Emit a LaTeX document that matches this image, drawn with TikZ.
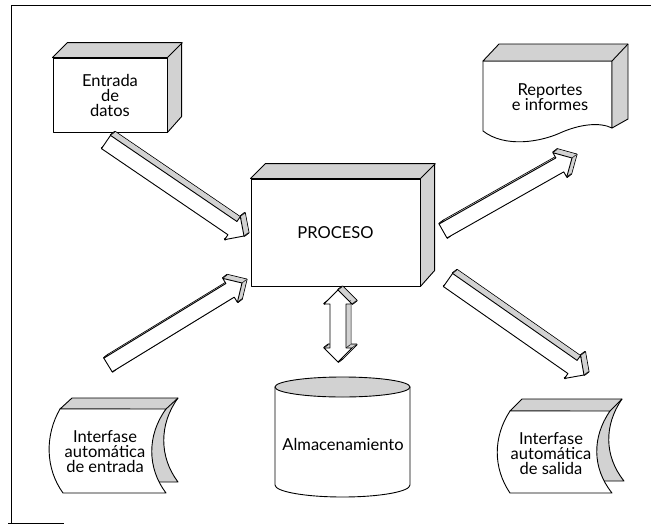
\documentclass[tikz,border=0pt]{standalone}
\usepackage{fontspec}
\setmainfont{Lato}
\usetikzlibrary{calc}

\tikzset{
  face/.style={draw=black, fill=white, line width=0.9pt, line join=round},
  side/.style={draw=black, fill=gray!35, line width=0.9pt, line join=round},
  txt/.style={font=\fontsize{16.5}{15}\selectfont, align=center, inner sep=0pt},
}

% depth of the block arrows and their sizes
\newcommand{\adx}{4.5}
\newcommand{\ady}{-3.5}
\newcommand{\asw}{8}
\newcommand{\ahw}{14}
\newcommand{\ahl}{14}

% polygon (v1)...(v#1) pushed back by (\adx,\ady)
\newcommand{\extrude}[1]{%
  \foreach \i in {1,...,#1}{
    \coordinate (w\i) at ($(v\i)+(\adx,\ady)$);
  }
  \foreach \i in {1,...,#1}{
    \pgfmathtruncatemacro{\k}{mod(\i,#1)+1}
    \draw[line width=1.8pt, line join=round] (v\i) -- (w\i) -- (w\k) -- (v\k);
  }
  \foreach \i in {1,...,#1}{
    \pgfmathtruncatemacro{\k}{mod(\i,#1)+1}
    \fill[gray!35] (v\i) -- (w\i) -- (w\k) -- (v\k) -- cycle;
  }
  \fill[gray!35] (w1) \foreach \i in {2,...,#1}{ -- (w\i)} -- cycle;
  \foreach \i in {1,...,#1}{
    \draw[line width=0.5pt] (v\i) -- (w\i);
  }
  \filldraw[face] (v1) \foreach \i in {2,...,#1}{ -- (v\i)} -- cycle;
}

\newcommand{\blockarrow}[2]{%
  \coordinate (bs) at (#1);
  \coordinate (be) at (#2);
  \coordinate (bh) at ($(be)!\ahl pt!(bs)$);
  \coordinate (v1) at ($(bs)!\asw pt!90:(be)$);
  \coordinate (v2) at ($(bh)!\asw pt!90:(be)$);
  \coordinate (v3) at ($(bh)!\ahw pt!90:(be)$);
  \coordinate (v4) at (be);
  \coordinate (v5) at ($(bh)!\ahw pt!-90:(be)$);
  \coordinate (v6) at ($(bh)!\asw pt!-90:(be)$);
  \coordinate (v7) at ($(bs)!\asw pt!-90:(be)$);
  \extrude{7}
}

\newcommand{\blockdarrow}[2]{%
  \coordinate (bs) at (#1);
  \coordinate (be) at (#2);
  \coordinate (bh) at ($(bs)!\ahl pt!(be)$);
  \coordinate (bg) at ($(be)!\ahl pt!(bs)$);
  \coordinate (v1) at (bs);
  \coordinate (v2) at ($(bh)!\ahw pt!90:(be)$);
  \coordinate (v3) at ($(bh)!\asw pt!90:(be)$);
  \coordinate (v4) at ($(bg)!\asw pt!90:(be)$);
  \coordinate (v5) at ($(bg)!\ahw pt!90:(be)$);
  \coordinate (v6) at (be);
  \coordinate (v7) at ($(bg)!\ahw pt!-90:(be)$);
  \coordinate (v8) at ($(bg)!\asw pt!-90:(be)$);
  \coordinate (v9) at ($(bh)!\asw pt!-90:(be)$);
  \coordinate (v10) at ($(bh)!\ahw pt!-90:(be)$);
  \extrude{10}
}

\begin{document}
\begin{tikzpicture}[x=1pt, y=-1pt]
  \useasboundingbox (0,0) rectangle (651,525);
  % frame
  \draw[line width=1pt] (11,523) -- (11,5) -- (651,5);
  \draw[line width=1pt] (8,523) -- (64,523);

  % entrada de datos
  \node[face, txt, minimum width=114pt, minimum height=74pt] (entrada) at (110,95) {Entrada\\de\\datos};
  \filldraw[side] (entrada.north west) -- ++(15,-15) -- ++(114,0) -- ++(0,74) -- (entrada.south east) -- (entrada.north east) -- cycle;
  \draw[line width=0.9pt] (entrada.north east) -- ++(15,-15);

  % proceso
  \node[face, txt, minimum width=169pt, minimum height=107pt] (proc) at (335.5,232.5) {PROCESO};
  \filldraw[side] (proc.north west) -- ++(15,-15) -- ++(169,0) -- ++(0,107) -- (proc.south east) -- (proc.north east) -- cycle;
  \draw[line width=0.9pt] (proc.north east) -- ++(15,-15);

  % reportes
  \filldraw[face] (483,61) -- (612,61) -- (612,128) .. controls (600,122) and (580,124) .. (560,133)
    .. controls (540,142) and (505,148) .. (483,131) -- cycle;
  \filldraw[side] (483,61) -- (499,44) -- (628,44) -- (628,119) -- (612,128) -- (612,61) -- cycle;
  \draw[line width=0.9pt] (612,61) -- (628,44);
  \node[txt] (rep) at (550,97) {Reportes\\e informes};

  % interfase de entrada
  \filldraw[side] (60,409) -- (72,398) -- (178,398) .. controls (159,424) and (159,457) .. (178,482)
    -- (130,482) -- (130,409) -- cycle;
  \filldraw[face] (60,409) -- (166,409) .. controls (147,435) and (147,468) .. (166,493)
    -- (63,493) .. controls (45,468) and (45,435) .. (60,409) -- cycle;
  \draw[line width=0.9pt] (166,409) -- (178,398);
  \node[txt] (ient) at (105,452) {Interfase\\automática\\de entrada};

  % interfase de salida
  \filldraw[side] (510,411) -- (522,399) -- (622,399) .. controls (604,425) and (604,456) .. (624,481)
    -- (570,481) -- (570,411) -- cycle;
  \filldraw[face] (510,411) -- (610,411) .. controls (592,437) and (592,468) .. (612,493)
    -- (510,493) .. controls (493,468) and (493,437) .. (510,411) -- cycle;
  \draw[line width=0.9pt] (610,411) -- (622,399);
  \node[txt] (isal) at (551,454) {Interfase\\automática\\de salida};

  % almacenamiento
  \filldraw[face] (275,387) -- (275,485) arc[start angle=180, end angle=0, x radius=67.5, y radius=12] -- (410,387) -- cycle;
  \filldraw[side] (342.5,387) ellipse [x radius=67.5, y radius=10];
  \node[txt] (alm) at (343,444) {Almacenamiento};

  % arrows
  \coordinate (a1) at (106,142);
  \coordinate (a2) at (244,236);
  \coordinate (b1) at (108,365);
  \coordinate (b2) at (242,283);
  \coordinate (c1) at (443,231);
  \coordinate (c2) at (572,158);
  \coordinate (d1) at (448,280);
  \coordinate (d2) at (584,375);
  \coordinate (e1) at (338,290);
  \coordinate (e2) at (338,362);
  \blockarrow{a1}{a2}
  \blockarrow{b1}{b2}
  \blockarrow{c1}{c2}
  \blockarrow{d1}{d2}
  \blockdarrow{e1}{e2}
\end{tikzpicture}
\end{document}
